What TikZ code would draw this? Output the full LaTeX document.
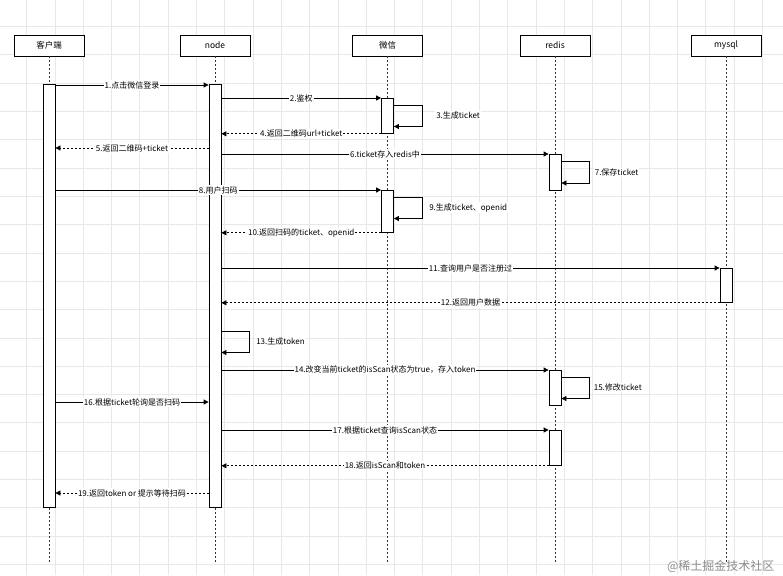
\documentclass[tikz,border=0pt]{standalone}
\usepackage{fontspec}
\setmainfont{Noto Sans CJK SC}
\usetikzlibrary{arrows.meta}

\tikzset{
  gridline/.style={draw=black!9, line width=0.6pt},
  head/.style={draw, fill=white, minimum width=70pt, minimum height=21pt, inner sep=0pt, font=\fontsize{8.5}{10}\selectfont},
  life/.style={dash pattern=on 2pt off 2pt, line width=0.8pt, black!80},
  bar/.style={draw, fill=white, minimum width=12pt, inner sep=0pt, line width=0.8pt},
  msg/.style={-{Triangle[length=5pt,width=5pt]}, line width=0.8pt},
  ret/.style={msg, dash pattern=on 2pt off 2pt},
  lbl/.style={fill=white, inner sep=1pt, font=\fontsize{8}{9}\selectfont}
}

\begin{document}
\begin{tikzpicture}[x=1pt, y=-1pt]
   % Background and grid
    \fill[white] (0,0) rectangle (783,575);
    \useasboundingbox (0,0) rectangle (783,575);
    \foreach \i in {0,...,26} \draw[gridline] (26.5+\i*28.3,0) -- ++(0,575);
    \foreach \i in {0,...,19} \draw[gridline] (0,26.5+\i*28.3) -- ++(783,0);

   % Participants
    \node[head] (client) at (49,45.5) {客户端};
    \node[head] (server) at (215,45.5) {node};
    \node[head] (wechat) at (387.5,45.5) {微信};
    \node[head] (redis) at (555,45.5) {redis};
    \node[head] (mysql) at (726,45.5) {mysql};

   % Lifelines
    \foreach \p in {client,server,wechat,redis,mysql}
      \draw[life] (\p.south) -- ++(0,507);

   % Activation bars
    \node[bar, minimum height=423pt, anchor=north] (cbar) at (49,84) {};
    \node[bar, minimum height=423pt, anchor=north] (nbar) at (215,84) {};
    \node[bar, minimum height=35pt, anchor=north] (wbar1) at (387.5,98) {};
    \node[bar, minimum height=42pt, anchor=north] (wbar2) at (387.5,190) {};
    \node[bar, minimum height=36pt, anchor=north] (rbar1) at (555,154) {};
    \node[bar, minimum height=34pt, anchor=north] (mbar) at (726,268) {};
    \node[bar, minimum height=35pt, anchor=north] (rbar2) at (555,370) {};
    \node[bar, minimum height=35pt, anchor=north] (rbar3) at (555,430) {};

   % Free message heights
    \coordinate (y5) at (0,148);
    \coordinate (y13) at (0,331);
    \coordinate (y16) at (0,402);
    \coordinate (y19) at (0,493);

   % Login and QR code
    \draw[msg] ([yshift=-1pt]cbar.north east) -- node[lbl] {1.点击微信登录} ([yshift=-1pt]nbar.north west);
    \draw[msg] (nbar.east |- wbar1.north) -- node[lbl] {2.鉴权} (wbar1.north west);
    \draw[msg] ([yshift=-7pt]wbar1.north east) -- ++(28,0) -- ++(0,21.5) node[midway, right=13pt, lbl] {3.生成ticket} -- ++(-28,0);
    \draw[ret] (wbar1.south west) -- node[lbl] {4.返回二维码url+ticket} (nbar.east |- wbar1.south);
    \draw[ret] (nbar.west |- y5) -- node[lbl] {5.返回二维码+ticket} (cbar.east |- y5);
    \draw[msg] (nbar.east |- rbar1.north) -- node[lbl] {6.ticket存入redis中} (rbar1.north west);
    \draw[msg] ([yshift=-7.5pt]rbar1.north east) -- ++(28,0) -- ++(0,21.5) node[midway, right=4pt, lbl] {7.保存ticket} -- ++(-28,0);

   % Scan
    \draw[msg] (cbar.east |- wbar2.north) -- node[lbl] {8.用户扫码} (wbar2.north west);
    \draw[msg] ([yshift=-7pt]wbar2.north east) -- ++(28,0) -- ++(0,21.5) node[midway, right=6pt, lbl] {9.生成ticket、openid} -- ++(-28,0);
    \draw[ret] (wbar2.south west) -- node[lbl] {10.返回扫码的ticket、openid} (nbar.east |- wbar2.south);

   % User lookup and token
    \draw[msg] (nbar.east |- mbar.north) -- node[lbl] {11.查询用户是否注册过} (mbar.north west);
    \draw[ret] (mbar.south west) -- node[lbl] {12.返回用户数据} (nbar.east |- mbar.south);
    \draw[msg] (nbar.east |- y13) -- ++(27.5,0) -- ++(0,21.5) node[midway, right=6pt, lbl] {13.生成token} -- ++(-27.5,0);
    \draw[msg] (nbar.east |- rbar2.north) -- node[lbl] {14.改变当前ticket的isScan状态为true，存入token} (rbar2.north west);
    \draw[msg] ([yshift=-7pt]rbar2.north east) -- ++(28,0) -- ++(0,21.5) node[midway, right=3pt, lbl] {15.修改ticket} -- ++(-28,0);

   % Polling
    \draw[msg] (cbar.east |- y16) -- node[lbl] {16.根据ticket轮询是否扫码} (nbar.west |- y16);
    \draw[msg] (nbar.east |- rbar3.north) -- node[lbl] {17.根据ticket查询isScan状态} (rbar3.north west);
    \draw[ret] (rbar3.south west) -- node[lbl] {18.返回isScan和token} (nbar.east |- rbar3.south);
    \draw[ret] (nbar.west |- y19) -- node[lbl] {19.返回token or 提示等待扫码} (cbar.east |- y19);

   % Watermark
    \node[anchor=east, text=black!45, font=\fontsize{12}{14}\selectfont] (mark) at (778,566) {@稀土掘金技术社区};
\end{tikzpicture}
\end{document}
